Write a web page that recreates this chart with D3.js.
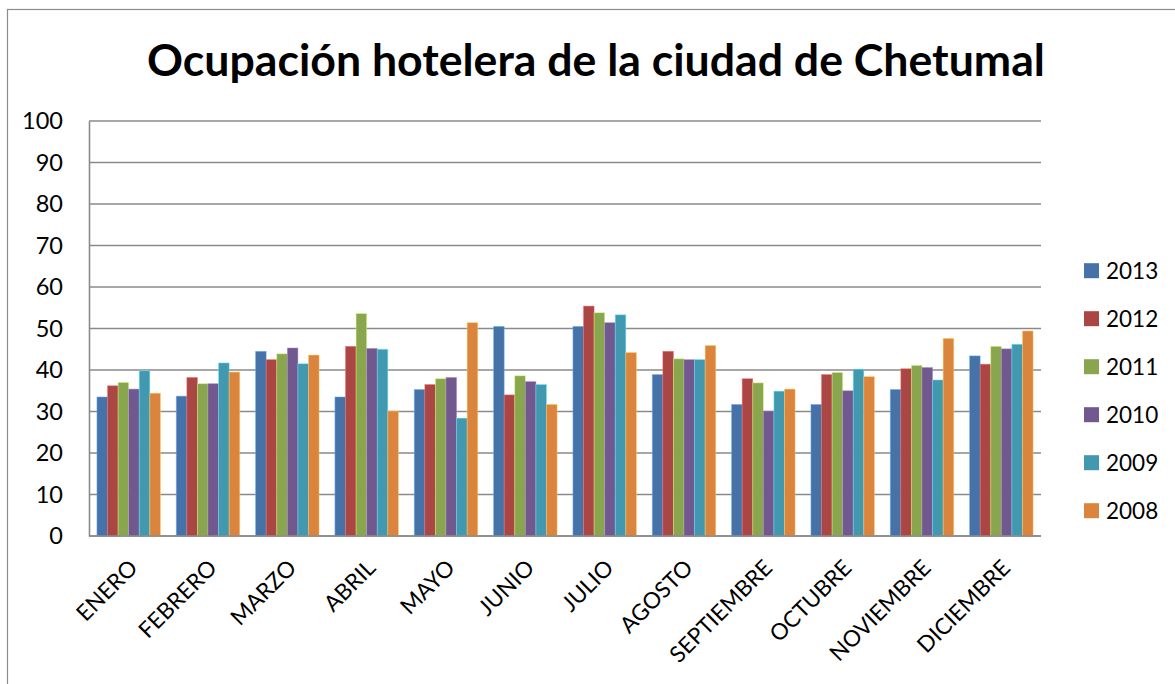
<!DOCTYPE html>
<html>
<head>
<meta charset="utf-8">
<script src="https://cdn.jsdelivr.net/npm/d3@7"></script>
<style>
  body { margin: 0; background: #fff; }
  svg { display: block; font-family: Lato, 'Noto Sans', sans-serif; }
</style>
</head>
<body>
<div class="chart-wrapper"></div>
<script>
const months = ['ENERO','FEBRERO','MARZO','ABRIL','MAYO','JUNIO','JULIO','AGOSTO','SEPTIEMBRE','OCTUBRE','NOVIEMBRE','DICIEMBRE'];
const years = ['2013','2012','2011','2010','2009','2008'];
const yTicks = [0,10,20,30,40,50,60,70,80,90,100];

const v2013 = [33.5, 33.7, 44.5, 33.5, 35.3, 50.5, 50.5, 38.9, 31.7, 31.7, 35.3, 43.4];
const v2012 = [36.2, 38.2, 42.5, 45.7, 36.5, 34.0, 55.4, 44.5, 37.9, 38.9, 40.3, 41.4];
const v2011 = [37.0, 36.7, 43.9, 53.6, 37.9, 38.6, 53.8, 42.7, 36.9, 39.4, 41.1, 45.7];
const v2010 = [35.4, 36.7, 45.3, 45.2, 38.2, 37.2, 51.4, 42.5, 30.1, 35.0, 40.6, 45.1];
const v2009 = [39.8, 41.7, 41.5, 45.0, 28.4, 36.5, 53.3, 42.5, 34.9, 40.2, 37.6, 46.2];
const v2008 = [34.4, 39.5, 43.6, 30.1, 51.4, 31.7, 44.2, 45.9, 35.4, 38.4, 47.6, 49.4];

const series = [v2013, v2012, v2011, v2010, v2009, v2008];
const colors = ['#4572A7', '#AA4643', '#89A54E', '#71588F', '#4198AF', '#DB843D'];

const width = 1175, height = 684;
const plot = {left: 89, right: 1041, top: 121, bottom: 536};

const svg = d3.select('.chart-wrapper')
  .append('svg')
  .attr('width', width)
  .attr('height', height);

// outer chart border (runs off the right and bottom edges)
svg.append('rect')
  .attr('x', 7.5).attr('y', 9.5)
  .attr('width', 1200).attr('height', 700)
  .attr('fill', '#fff')
  .attr('stroke', '#8c8c8c')
  .attr('stroke-width', 1.2);

let x0 = d3.scaleBand()
  .domain(months)
  .range([plot.left, plot.right])
  .paddingInner(0.2)
  .paddingOuter(0.1);

let x1 = d3.scaleBand()
  .domain(years)
  .range([0, x0.bandwidth()]);

let y = d3.scaleLinear()
  .domain([0, 100])
  .range([plot.bottom, plot.top]);

// gridlines
svg.append('g')
  .selectAll('line')
  .data(yTicks)
  .enter()
  .append('line')
  .attr('x1', plot.left).attr('x2', plot.right)
  .attr('y1', d => y(d)).attr('y2', d => y(d))
  .attr('stroke', '#8a8a8a')
  .attr('stroke-width', 1.4);

// bars
const rows = [];
months.forEach((m, i) => {
  years.forEach((yr, j) => rows.push({month: m, year: yr, value: series[j][i], color: colors[j]}));
});

svg.append('g')
  .selectAll('rect')
  .data(rows)
  .enter()
  .append('rect')
  .attr('x', d => x0(d.month) + x1(d.year))
  .attr('y', d => y(d.value))
  .attr('width', x1.bandwidth())
  .attr('height', d => y(0) - y(d.value))
  .attr('fill', d => d.color)
  .attr('stroke', d => d3.color(d.color).brighter(1.2))
  .attr('stroke-opacity', 0.6)
  .attr('stroke-width', 0.8);

// y axis
const yAxis = svg.append('g')
  .attr('transform', `translate(${plot.left},0)`)
  .call(d3.axisLeft(y).tickValues(yTicks).tickSize(0).tickPadding(26));

yAxis.select('.domain')
  .attr('stroke', '#8a8a8a')
  .attr('stroke-width', 1.6);

yAxis.selectAll('text')
  .attr('font-family', 'Lato, sans-serif')
  .attr('font-size', '23.5px')
  .attr('fill', '#000');

// x axis baseline
svg.append('line')
  .attr('x1', plot.left).attr('x2', plot.right)
  .attr('y1', y(0)).attr('y2', y(0))
  .attr('stroke', '#8a8a8a')
  .attr('stroke-width', 1.6);

// month labels rotated 45°
svg.append('g')
  .selectAll('text')
  .data(months)
  .enter()
  .append('text')
  .attr('transform', d => `translate(${x0(d) + x0.bandwidth() / 2 - 1},${plot.bottom + 22}) rotate(-45)`)
  .attr('text-anchor', 'end')
  .attr('dy', '0.71em')
  .attr('font-size', '22.5px')
  .attr('fill', '#000')
  .text(d => d);

// title
const title = svg.append('text')
  .attr('x', 596)
  .attr('y', 76)
  .attr('text-anchor', 'middle')
  .attr('font-weight', 'bold')
  .attr('font-size', '46px')
  .attr('fill', '#000')
  .text('Ocupación hotelera de la ciudad de Chetumal');

let tw = title.node().getComputedTextLength();
title.attr('font-size', (46 * 898 / tw) + 'px');

// legend
const legend = svg.append('g')
  .selectAll('g')
  .data(years)
  .enter()
  .append('g')
  .attr('transform', (d, i) => `translate(1084,${270.7 + i * 48})`);

legend.append('rect')
  .attr('x', 0).attr('y', -7.5)
  .attr('width', 15).attr('height', 15)
  .attr('fill', (d, i) => colors[i]);

legend.append('text')
  .attr('x', 22)
  .attr('dy', '0.36em')
  .attr('font-size', '22.5px')
  .attr('fill', '#000')
  .text(d => d);
</script>
</body>
</html>
